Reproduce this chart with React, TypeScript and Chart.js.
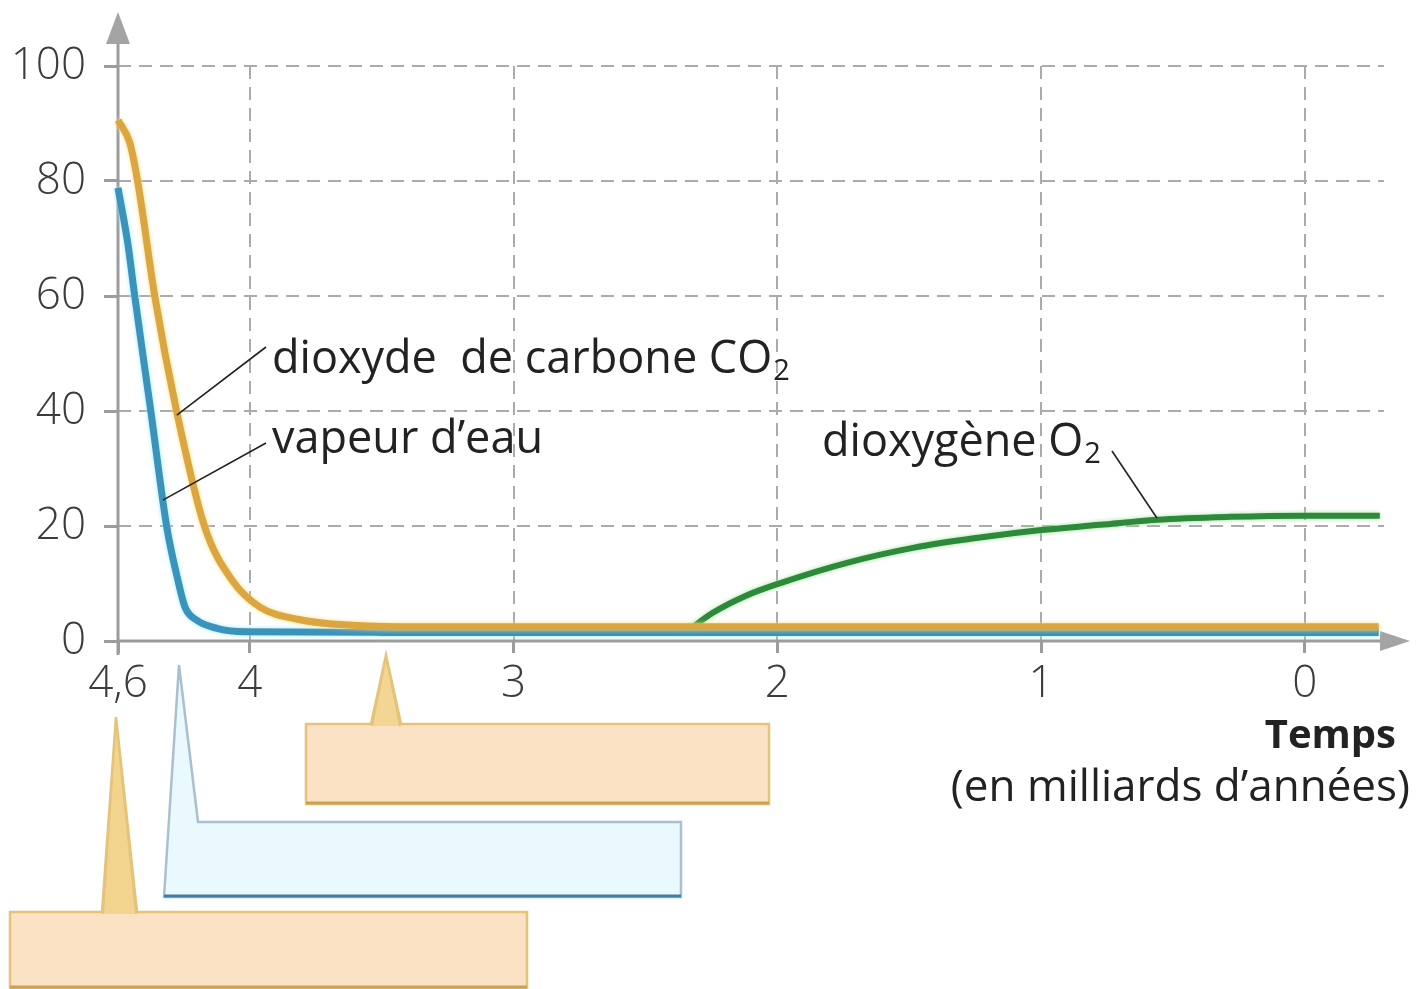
import React, { useEffect, useRef } from "react";
import { Chart, registerables } from "chart.js";

Chart.register(...registerables);

// ---- Data (time in billions of years before present, value in %) ----
const co2Time = [4.5, 4.455, 4.425, 4.36, 4.277, 4.171, 4.068, 3.962, 3.81, 3.67, 3.431, 3.0, 2.0, 1.0, 0, -0.28];
const co2Values = [90.6, 86.6, 79.8, 59.8, 39.8, 19.8, 10.6, 5.9, 3.7, 2.9, 2.5, 2.5, 2.5, 2.5, 2.5, 2.5];

const waterTime = [4.5, 4.463, 4.436, 4.375, 4.315, 4.273, 4.246, 4.201, 4.125, 4.019, 3.5, 2.5, 1.5, 0.5, -0.28];
const waterValues = [78.8, 69.2, 59.8, 39.8, 19.8, 10.6, 5.9, 3.6, 2.2, 1.6, 1.5, 1.5, 1.5, 1.5, 1.5];

const o2Time = [2.35, 2.245, 2.123, 2.0, 1.736, 1.486, 1.232, 1.0, 0.777, 0.561, 0.284, 0, -0.284];
const o2Values = [1.4, 4.9, 7.8, 9.9, 13.6, 16.2, 18.0, 19.3, 20.2, 21.1, 21.6, 21.8, 21.8];

const xTickValues = [4.5, 4, 3, 2, 1, 0];
const xTickLabels = ["4,6", "4", "3", "2", "1", "0"];
const yTickValues = [0, 20, 40, 60, 80, 100];

const co2Label = "dioxyde  de carbone CO";
const waterLabel = "vapeur d\u2019eau";
const o2Label = "dioxyg\u00e8ne O";
const axisTitle = "Temps";
const axisSubtitle = "(en milliards d\u2019ann\u00e9es)";

const lineColors = ["#dba540", "#3a93bb", "#2c8a3a"];
const haloColors = ["#f6df86", "#9fe8ff", "#9fe39a"];

const toPoints = (t: number[], v: number[]) => t.map((x, i) => ({ x, y: v[i] }));

const FONT = "'Open Sans', 'DejaVu Sans', sans-serif";

const decor = {
  id: "decor",
  beforeDatasetsDraw(chart: any) {
    const { ctx, chartArea: a, scales } = chart;
    const x = scales.x;
    const y = scales.y;
    ctx.save();
    // dashed grid
    ctx.strokeStyle = "#ababab";
    ctx.lineWidth = 2;
    ctx.setLineDash([13, 8]);
    yTickValues.filter((v) => v > 0).forEach((v) => {
      const py = Math.round(y.getPixelForValue(v));
      ctx.beginPath();
      ctx.moveTo(a.left, py);
      ctx.lineTo(a.right, py);
      ctx.stroke();
    });
    xTickValues.filter((v) => v !== 4.5).forEach((v) => {
      const px = Math.round(x.getPixelForValue(v));
      ctx.beginPath();
      ctx.moveTo(px, a.top);
      ctx.lineTo(px, a.bottom);
      ctx.stroke();
    });
    ctx.setLineDash([]);
    // axes
    const y0 = y.getPixelForValue(0);
    ctx.strokeStyle = "#9c9c9c";
    ctx.fillStyle = "#a4a4a4";
    ctx.lineWidth = 3;
    ctx.beginPath();
    ctx.moveTo(a.left, y0);
    ctx.lineTo(a.right, y0);
    ctx.stroke();
    ctx.beginPath();
    ctx.moveTo(a.right - 4, y0 - 10);
    ctx.lineTo(a.right + 26, y0);
    ctx.lineTo(a.right - 4, y0 + 10);
    ctx.closePath();
    ctx.fill();
    ctx.beginPath();
    ctx.moveTo(a.left, a.bottom + 14);
    ctx.lineTo(a.left, a.top - 22);
    ctx.stroke();
    ctx.beginPath();
    ctx.moveTo(a.left - 12, a.top - 22);
    ctx.lineTo(a.left, a.top - 54);
    ctx.lineTo(a.left + 12, a.top - 22);
    ctx.closePath();
    ctx.fill();
    ctx.restore();
  },
  beforeDatasetDraw(chart: any, args: any) {
    const ctx = chart.ctx;
    ctx.save();
    ctx.shadowColor = haloColors[args.index];
    ctx.shadowBlur = 4;
  },
  afterDatasetDraw(chart: any) {
    chart.ctx.restore();
  },
  afterDraw(chart: any) {
    const { ctx, scales } = chart;
    const x = scales.x;
    const y = scales.y;
    ctx.save();

    // leader lines
    ctx.strokeStyle = "#222";
    ctx.lineWidth = 1.6;
    const leader = (x1: number, y1: number, t: number, v: number) => {
      ctx.beginPath();
      ctx.moveTo(x1, y1);
      ctx.lineTo(x.getPixelForValue(t), y.getPixelForValue(v));
      ctx.stroke();
    };
    leader(266, 347, 4.277, 39.3);
    leader(266, 443, 4.33, 24.5);
    leader(1112, 451, 0.561, 21.4);

    // labels with subscript
    const chem = (txt: string, sub: string, lx: number, base: number) => {
      ctx.font = `500 45px ${FONT}`;
      ctx.fillStyle = "#222";
      ctx.textAlign = "left";
      ctx.textBaseline = "alphabetic";
      ctx.fillText(txt, lx, base);
      const w = ctx.measureText(txt).width;
      if (sub) {
        ctx.font = `500 29px ${FONT}`;
        ctx.fillText(sub, lx + w + 1, base + 7);
      }
    };
    chem(co2Label, "2", 272, 373);
    chem(waterLabel, "", 272, 453);
    chem(o2Label, "2", 822, 456);

    ctx.fillStyle = "#222";
    ctx.textAlign = "right";
    ctx.font = `700 40px ${FONT}`;
    ctx.fillText(axisTitle, 1396, 748);
    ctx.font = `400 44px ${FONT}`;
    ctx.fillText(axisSubtitle, 1410, 801);

    // callout boxes
    const box = (
      pts: number[][],
      fill: string,
      stroke: string,
      bottom: number[][],
      bottomColor: string
    ) => {
      ctx.beginPath();
      ctx.moveTo(pts[0][0], pts[0][1]);
      for (let i = 1; i < pts.length; i++) ctx.lineTo(pts[i][0], pts[i][1]);
      ctx.closePath();
      ctx.fillStyle = fill;
      ctx.fill();
      ctx.strokeStyle = stroke;
      ctx.lineWidth = 2.5;
      ctx.stroke();
      ctx.beginPath();
      ctx.moveTo(bottom[0][0], bottom[0][1]);
      ctx.lineTo(bottom[1][0], bottom[1][1]);
      ctx.strokeStyle = bottomColor;
      ctx.lineWidth = 3;
      ctx.stroke();
    };
    const pointer = (tip: number[], b1: number[], b2: number[], fill: string, stroke: string) => {
      ctx.beginPath();
      ctx.moveTo(b1[0], b1[1]);
      ctx.lineTo(tip[0], tip[1]);
      ctx.lineTo(b2[0], b2[1]);
      ctx.fillStyle = fill;
      ctx.fill();
      ctx.strokeStyle = stroke;
      ctx.lineWidth = 2;
      ctx.stroke();
    };
    // box A (top, orange)
    box(
      [[306, 724], [371, 724], [386, 655], [401, 724], [769, 724], [769, 804], [306, 804]],
      "#fbe2c4",
      "#e4c479",
      [[306, 803], [769, 803]],
      "#c9a14f"
    );
    pointer([386, 657], [372, 726], [400, 726], "#f4d694", "#e4c479");
    // box B (blue)
    box(
      [[164, 897], [179, 665], [198, 822], [681, 822], [681, 897]],
      "#eaf9fd",
      "#a9c0cf",
      [[164, 896], [681, 896]],
      "#3d7fa6"
    );
    // box C (bottom, orange)
    box(
      [[10, 912], [102, 912], [116, 717], [137, 912], [527, 912], [527, 988], [10, 988]],
      "#fbe2c4",
      "#e4c479",
      [[10, 987], [527, 987]],
      "#c9a14f"
    );
    pointer([116, 720], [103, 914], [136, 914], "#f3d48f", "#e4c479");

    ctx.restore();
  },
};

export default function App() {
  const ref = useRef<HTMLCanvasElement | null>(null);
  useEffect(() => {
    if (!ref.current) return;
    const chart = new Chart(ref.current, {
      type: "line",
      data: {
        datasets: [
          {
            label: "dioxyde de carbone CO\u2082",
            data: toPoints(co2Time, co2Values),
            borderColor: lineColors[0],
            borderWidth: 7,
            pointRadius: 0,
            cubicInterpolationMode: "monotone",
            clip: false as any,
          },
          {
            label: "vapeur d\u2019eau",
            data: toPoints(waterTime, waterValues),
            borderColor: lineColors[1],
            borderWidth: 7,
            pointRadius: 0,
            cubicInterpolationMode: "monotone",
            clip: false as any,
          },
          {
            label: "dioxyg\u00e8ne O\u2082",
            data: toPoints(o2Time, o2Values),
            borderColor: lineColors[2],
            borderWidth: 6,
            pointRadius: 0,
            cubicInterpolationMode: "monotone",
            clip: false as any,
          },
        ],
      },
      options: {
        animation: false,
        responsive: false,
        layout: { padding: { left: 0, top: 66, right: 43, bottom: 248 } },
        plugins: { legend: { display: false }, tooltip: { enabled: false } },
        scales: {
          x: {
            type: "linear",
            reverse: true,
            min: -0.3,
            max: 4.5,
            afterBuildTicks: (s: any) => {
              s.ticks = xTickValues.map((v) => ({ value: v }));
            },
            afterFit: (s: any) => {
              s.height = 100;
            },
            ticks: {
              autoSkip: false,
              maxRotation: 0,
              padding: 5,
              color: "#3c3c3c",
              font: { family: FONT, size: 44, weight: "300" as any },
              callback: (v: any) => {
                const i = xTickValues.indexOf(Number(v));
                return i >= 0 ? xTickLabels[i] : "";
              },
            },
            grid: {
              drawOnChartArea: false,
              drawTicks: true,
              tickLength: 12,
              tickColor: "#9c9c9c",
              tickWidth: 3,
            },
            border: { display: false },
          },
          y: {
            min: 0,
            max: 100,
            afterBuildTicks: (s: any) => {
              s.ticks = yTickValues.map((v) => ({ value: v }));
            },
            afterFit: (s: any) => {
              s.width = 118;
            },
            ticks: {
              padding: 18,
              color: "#3c3c3c",
              font: { family: FONT, size: 44, weight: "300" as any },
            },
            grid: {
              drawOnChartArea: false,
              drawTicks: true,
              tickLength: 14,
              tickColor: "#9c9c9c",
              tickWidth: 3,
            },
            border: { display: false },
          },
        },
      },
      plugins: [decor],
    });
    return () => chart.destroy();
  }, []);
  return (
    <div style={{ position: "absolute", left: 0, top: 0, width: 1427, height: 989, background: "#fff" }}>
      <canvas ref={ref} width={1427} height={989} style={{ display: "block" }} />
    </div>
  );
}
